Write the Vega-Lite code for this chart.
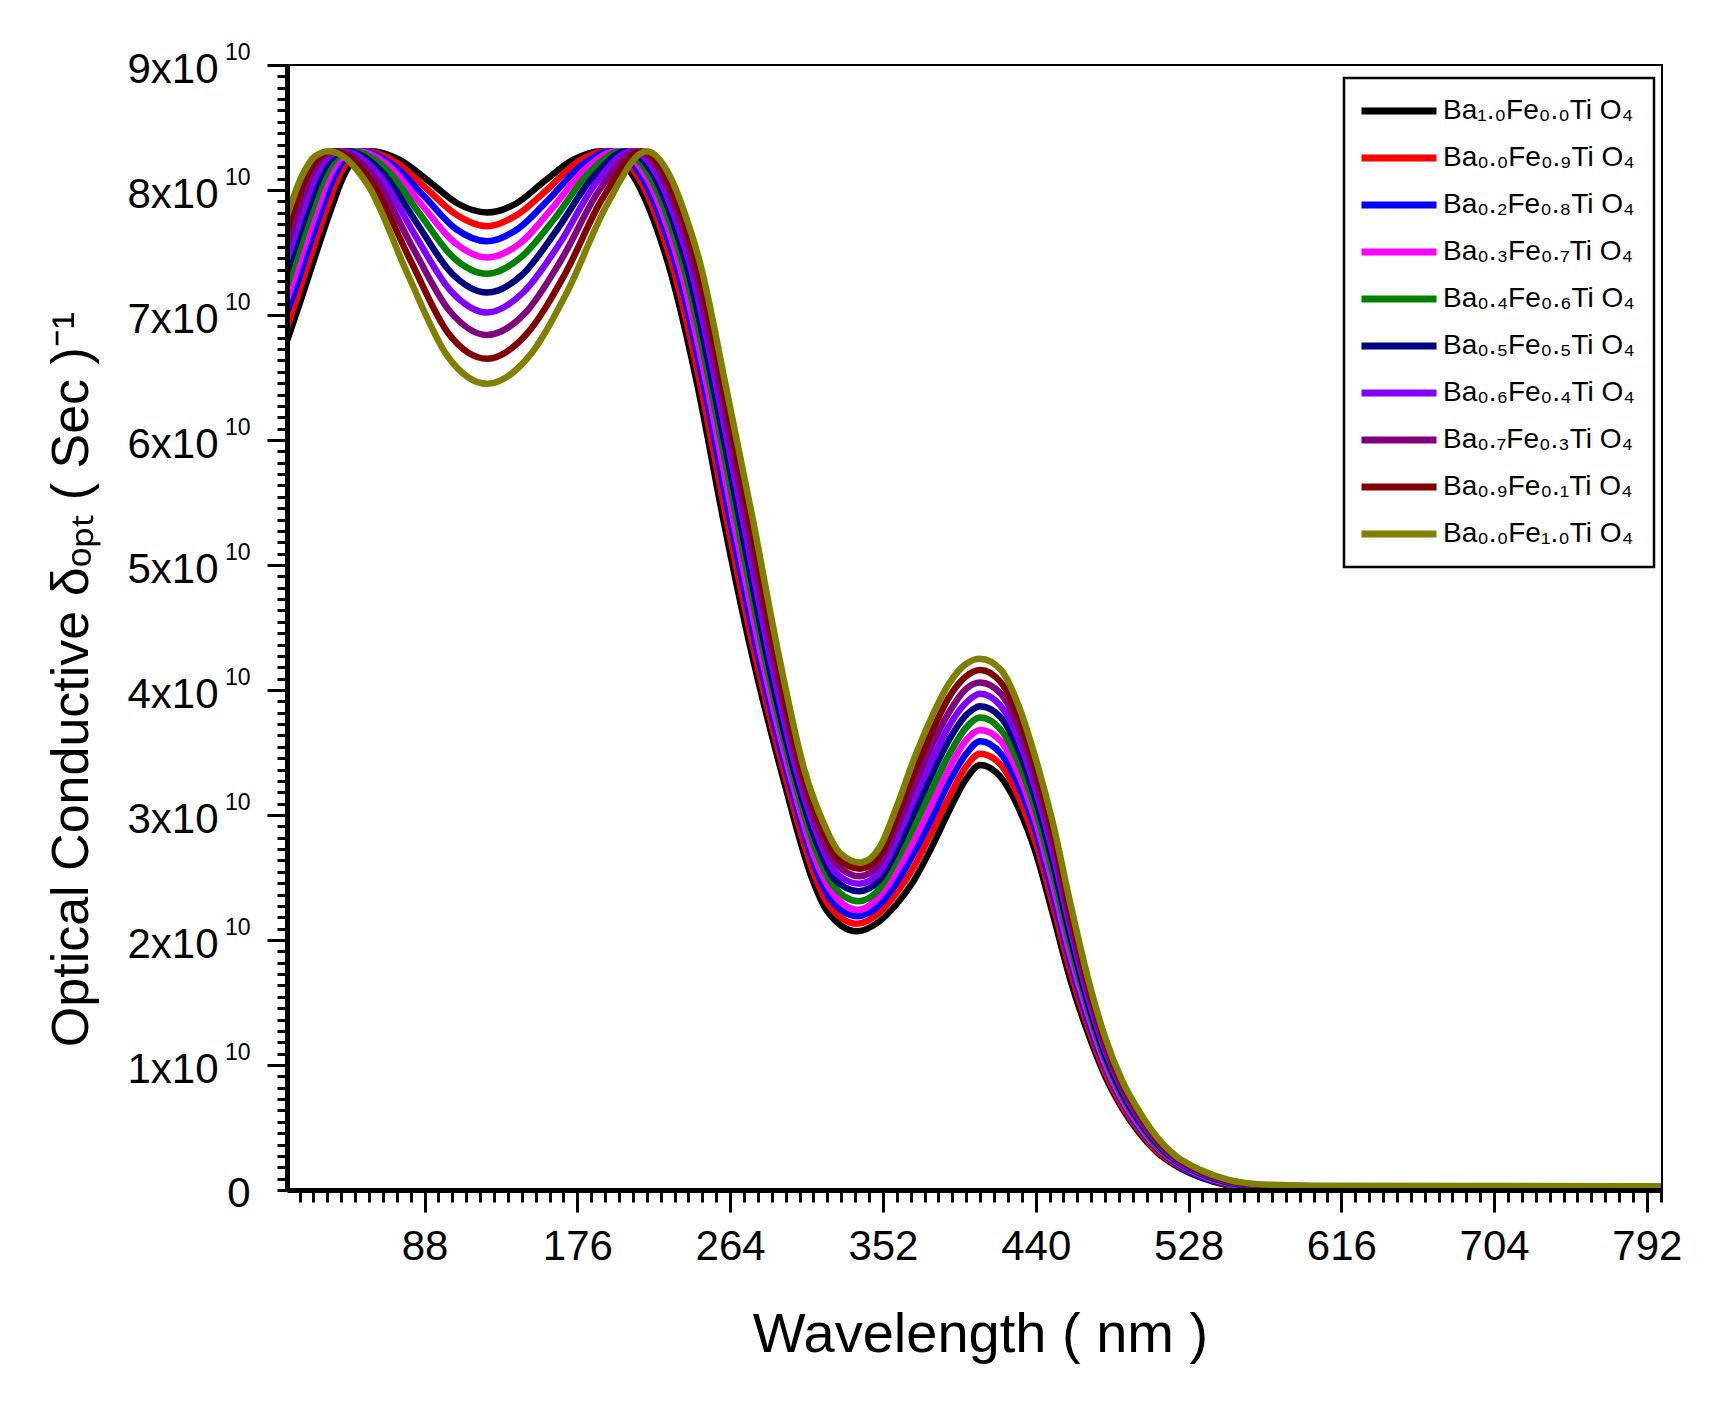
{
  "$schema": "https://vega.github.io/schema/vega-lite/v6.json",
  "autosize": {"type": "none"},
  "padding": {"left": 287, "top": 65, "right": 49, "bottom": 211},
  "width": 1375,
  "height": 1125,
  "background": "white",
  "config": {
    "view": {"stroke": "black", "strokeWidth": 2},
    "legend": {"strokeWidth": 2.5},
    "axis": {"labelFont": "Liberation Sans", "titleFont": "Liberation Sans", "labelColor": "black", "titleColor": "black", "tickColor": "black", "domainColor": "black"}
  },
  "datasets": {
    "names": [
      {"k": 0, "name": "Ba₁.₀Fe₀.₀Ti O₄"},
      {"k": 1, "name": "Ba₀.₀Fe₀.₉Ti O₄"},
      {"k": 2, "name": "Ba₀.₂Fe₀.₈Ti O₄"},
      {"k": 3, "name": "Ba₀.₃Fe₀.₇Ti O₄"},
      {"k": 4, "name": "Ba₀.₄Fe₀.₆Ti O₄"},
      {"k": 5, "name": "Ba₀.₅Fe₀.₅Ti O₄"},
      {"k": 6, "name": "Ba₀.₆Fe₀.₄Ti O₄"},
      {"k": 7, "name": "Ba₀.₇Fe₀.₃Ti O₄"},
      {"k": 8, "name": "Ba₀.₉Fe₀.₁Ti O₄"},
      {"k": 9, "name": "Ba₀.₀Fe₁.₀Ti O₄"}
    ],
    "spectra": [
      {"k":0,"x":9,"y":6.80e10},{"k":0,"x":17,"y":7.13e10},{"k":0,"x":25,"y":7.47e10},{"k":0,"x":33,"y":7.80e10},{"k":0,"x":41,"y":8.10e10},{"k":0,"x":49,"y":8.27e10},{"k":0,"x":57,"y":8.31e10},{"k":0,"x":73.8,"y":8.24e10},{"k":0,"x":90.5,"y":8.07e10},{"k":0,"x":107.3,"y":7.89e10},{"k":0,"x":124,"y":7.82e10},{"k":0,"x":140.5,"y":7.89e10},{"k":0,"x":157,"y":8.07e10},{"k":0,"x":173.5,"y":8.24e10},{"k":0,"x":190,"y":8.31e10},{"k":0,"x":210,"y":8.07e10},{"k":0,"x":220,"y":7.76e10},{"k":0,"x":230,"y":7.33e10},{"k":0,"x":245,"y":6.45e10},{"k":0,"x":260,"y":5.37e10},{"k":0,"x":275,"y":4.38e10},{"k":0,"x":295,"y":3.27e10},{"k":0,"x":311,"y":2.50e10},{"k":0,"x":320,"y":2.23e10},{"k":0,"x":337,"y":2.07e10},{"k":0,"x":350,"y":2.15e10},{"k":0,"x":360,"y":2.29e10},{"k":0,"x":370,"y":2.48e10},{"k":0,"x":380,"y":2.74e10},{"k":0,"x":390,"y":3.03e10},{"k":0,"x":400,"y":3.29e10},{"k":0,"x":408,"y":3.40e10},{"k":0,"x":420,"y":3.30e10},{"k":0,"x":430,"y":3.06e10},{"k":0,"x":440,"y":2.70e10},{"k":0,"x":450,"y":2.20e10},{"k":0,"x":460,"y":1.68e10},{"k":0,"x":470,"y":1.26e10},{"k":0,"x":480,"y":0.91e10},{"k":0,"x":490,"y":0.65e10},{"k":0,"x":500,"y":0.45e10},{"k":0,"x":510,"y":0.30e10},{"k":0,"x":520,"y":0.20e10},{"k":0,"x":535,"y":0.10e10},{"k":0,"x":550,"y":0.04e10},{"k":0,"x":570,"y":0.01e10},{"k":0,"x":600,"y":0},{"k":0,"x":800,"y":0},
      {"k":1,"x":9,"y":6.91e10},{"k":1,"x":14.3,"y":7.13e10},{"k":1,"x":22.3,"y":7.47e10},{"k":1,"x":30.3,"y":7.80e10},{"k":1,"x":38.3,"y":8.10e10},{"k":1,"x":46.3,"y":8.27e10},{"k":1,"x":54.3,"y":8.31e10},{"k":1,"x":71.8,"y":8.22e10},{"k":1,"x":89.2,"y":8.01e10},{"k":1,"x":106.6,"y":7.80e10},{"k":1,"x":124,"y":7.71e10},{"k":1,"x":141.2,"y":7.80e10},{"k":1,"x":158.4,"y":8.00e10},{"k":1,"x":175.7,"y":8.22e10},{"k":1,"x":192.9,"y":8.31e10},{"k":1,"x":212.1,"y":8.08e10},{"k":1,"x":222,"y":7.77e10},{"k":1,"x":231.9,"y":7.34e10},{"k":1,"x":246.9,"y":6.44e10},{"k":1,"x":261.9,"y":5.37e10},{"k":1,"x":276.9,"y":4.37e10},{"k":1,"x":296.3,"y":3.28e10},{"k":1,"x":311.8,"y":2.55e10},{"k":1,"x":320.8,"y":2.28e10},{"k":1,"x":337.2,"y":2.13e10},{"k":1,"x":350,"y":2.22e10},{"k":1,"x":360,"y":2.38e10},{"k":1,"x":370,"y":2.59e10},{"k":1,"x":380,"y":2.86e10},{"k":1,"x":390,"y":3.14e10},{"k":1,"x":400,"y":3.39e10},{"k":1,"x":408,"y":3.49e10},{"k":1,"x":420,"y":3.40e10},{"k":1,"x":430,"y":3.15e10},{"k":1,"x":440,"y":2.78e10},{"k":1,"x":450,"y":2.28e10},{"k":1,"x":460,"y":1.75e10},{"k":1,"x":470,"y":1.31e10},{"k":1,"x":480,"y":0.94e10},{"k":1,"x":490,"y":0.67e10},{"k":1,"x":500,"y":0.47e10},{"k":1,"x":510,"y":0.31e10},{"k":1,"x":520,"y":0.21e10},{"k":1,"x":535,"y":0.11e10},{"k":1,"x":550,"y":0.045e10},{"k":1,"x":570,"y":0.014e10},{"k":1,"x":600,"y":0.004e10},{"k":1,"x":800,"y":0.003e10},
      {"k":2,"x":9,"y":7.03e10},{"k":2,"x":11.7,"y":7.13e10},{"k":2,"x":19.7,"y":7.47e10},{"k":2,"x":27.7,"y":7.80e10},{"k":2,"x":35.7,"y":8.10e10},{"k":2,"x":43.7,"y":8.27e10},{"k":2,"x":51.7,"y":8.31e10},{"k":2,"x":69.8,"y":8.20e10},{"k":2,"x":87.8,"y":7.95e10},{"k":2,"x":105.9,"y":7.69e10},{"k":2,"x":124,"y":7.59e10},{"k":2,"x":141.9,"y":7.69e10},{"k":2,"x":159.9,"y":7.93e10},{"k":2,"x":177.8,"y":8.19e10},{"k":2,"x":195.8,"y":8.31e10},{"k":2,"x":214.2,"y":8.08e10},{"k":2,"x":224,"y":7.77e10},{"k":2,"x":233.8,"y":7.35e10},{"k":2,"x":248.8,"y":6.44e10},{"k":2,"x":263.8,"y":5.37e10},{"k":2,"x":278.8,"y":4.36e10},{"k":2,"x":297.7,"y":3.29e10},{"k":2,"x":312.6,"y":2.60e10},{"k":2,"x":321.6,"y":2.33e10},{"k":2,"x":337.4,"y":2.19e10},{"k":2,"x":350,"y":2.28e10},{"k":2,"x":360,"y":2.46e10},{"k":2,"x":370,"y":2.70e10},{"k":2,"x":380,"y":2.97e10},{"k":2,"x":390,"y":3.26e10},{"k":2,"x":400,"y":3.49e10},{"k":2,"x":408,"y":3.59e10},{"k":2,"x":420,"y":3.49e10},{"k":2,"x":430,"y":3.24e10},{"k":2,"x":440,"y":2.87e10},{"k":2,"x":450,"y":2.36e10},{"k":2,"x":460,"y":1.82e10},{"k":2,"x":470,"y":1.36e10},{"k":2,"x":480,"y":0.98e10},{"k":2,"x":490,"y":0.70e10},{"k":2,"x":500,"y":0.49e10},{"k":2,"x":510,"y":0.33e10},{"k":2,"x":520,"y":0.22e10},{"k":2,"x":535,"y":0.11e10},{"k":2,"x":550,"y":0.05e10},{"k":2,"x":570,"y":0.018e10},{"k":2,"x":600,"y":0.008e10},{"k":2,"x":800,"y":0.007e10},
      {"k":3,"x":9,"y":7.13e10},{"k":3,"x":17,"y":7.47e10},{"k":3,"x":25,"y":7.80e10},{"k":3,"x":33,"y":8.10e10},{"k":3,"x":41,"y":8.27e10},{"k":3,"x":49,"y":8.31e10},{"k":3,"x":67.8,"y":8.19e10},{"k":3,"x":86.5,"y":7.88e10},{"k":3,"x":105.3,"y":7.58e10},{"k":3,"x":124,"y":7.46e10},{"k":3,"x":142.7,"y":7.57e10},{"k":3,"x":161.3,"y":7.85e10},{"k":3,"x":180,"y":8.16e10},{"k":3,"x":198.7,"y":8.31e10},{"k":3,"x":216.3,"y":8.09e10},{"k":3,"x":226,"y":7.78e10},{"k":3,"x":235.7,"y":7.35e10},{"k":3,"x":250.7,"y":6.43e10},{"k":3,"x":265.7,"y":5.37e10},{"k":3,"x":280.7,"y":4.35e10},{"k":3,"x":299,"y":3.30e10},{"k":3,"x":313.3,"y":2.64e10},{"k":3,"x":322.3,"y":2.39e10},{"k":3,"x":337.7,"y":2.24e10},{"k":3,"x":350,"y":2.35e10},{"k":3,"x":360,"y":2.55e10},{"k":3,"x":370,"y":2.80e10},{"k":3,"x":380,"y":3.09e10},{"k":3,"x":390,"y":3.37e10},{"k":3,"x":400,"y":3.60e10},{"k":3,"x":408,"y":3.68e10},{"k":3,"x":420,"y":3.59e10},{"k":3,"x":430,"y":3.33e10},{"k":3,"x":440,"y":2.95e10},{"k":3,"x":450,"y":2.44e10},{"k":3,"x":460,"y":1.88e10},{"k":3,"x":470,"y":1.41e10},{"k":3,"x":480,"y":1.01e10},{"k":3,"x":490,"y":0.72e10},{"k":3,"x":500,"y":0.51e10},{"k":3,"x":510,"y":0.34e10},{"k":3,"x":520,"y":0.23e10},{"k":3,"x":535,"y":0.12e10},{"k":3,"x":550,"y":0.055e10},{"k":3,"x":570,"y":0.022e10},{"k":3,"x":600,"y":0.012e10},{"k":3,"x":800,"y":0.01e10},
      {"k":4,"x":9,"y":7.24e10},{"k":4,"x":14.3,"y":7.47e10},{"k":4,"x":22.3,"y":7.80e10},{"k":4,"x":30.3,"y":8.10e10},{"k":4,"x":38.3,"y":8.27e10},{"k":4,"x":46.3,"y":8.31e10},{"k":4,"x":65.8,"y":8.17e10},{"k":4,"x":85.2,"y":7.81e10},{"k":4,"x":104.6,"y":7.46e10},{"k":4,"x":124,"y":7.33e10},{"k":4,"x":143.4,"y":7.46e10},{"k":4,"x":162.8,"y":7.77e10},{"k":4,"x":182.2,"y":8.13e10},{"k":4,"x":201.6,"y":8.31e10},{"k":4,"x":218.4,"y":8.09e10},{"k":4,"x":228,"y":7.78e10},{"k":4,"x":237.6,"y":7.36e10},{"k":4,"x":252.6,"y":6.43e10},{"k":4,"x":267.6,"y":5.37e10},{"k":4,"x":282.6,"y":4.34e10},{"k":4,"x":300.3,"y":3.31e10},{"k":4,"x":314.1,"y":2.69e10},{"k":4,"x":323.1,"y":2.44e10},{"k":4,"x":337.9,"y":2.31e10},{"k":4,"x":350,"y":2.41e10},{"k":4,"x":360,"y":2.64e10},{"k":4,"x":370,"y":2.91e10},{"k":4,"x":380,"y":3.20e10},{"k":4,"x":390,"y":3.48e10},{"k":4,"x":400,"y":3.70e10},{"k":4,"x":408,"y":3.78e10},{"k":4,"x":420,"y":3.68e10},{"k":4,"x":430,"y":3.42e10},{"k":4,"x":440,"y":3.03e10},{"k":4,"x":450,"y":2.52e10},{"k":4,"x":460,"y":1.95e10},{"k":4,"x":470,"y":1.46e10},{"k":4,"x":480,"y":1.05e10},{"k":4,"x":490,"y":0.75e10},{"k":4,"x":500,"y":0.53e10},{"k":4,"x":510,"y":0.35e10},{"k":4,"x":520,"y":0.24e10},{"k":4,"x":535,"y":0.13e10},{"k":4,"x":550,"y":0.06e10},{"k":4,"x":570,"y":0.026e10},{"k":4,"x":600,"y":0.016e10},{"k":4,"x":800,"y":0.013e10},
      {"k":5,"x":9,"y":7.35e10},{"k":5,"x":11.7,"y":7.47e10},{"k":5,"x":19.7,"y":7.80e10},{"k":5,"x":27.7,"y":8.10e10},{"k":5,"x":35.7,"y":8.27e10},{"k":5,"x":43.7,"y":8.31e10},{"k":5,"x":63.8,"y":8.14e10},{"k":5,"x":83.8,"y":7.73e10},{"k":5,"x":103.9,"y":7.33e10},{"k":5,"x":124,"y":7.18e10},{"k":5,"x":144.1,"y":7.32e10},{"k":5,"x":164.2,"y":7.68e10},{"k":5,"x":184.3,"y":8.09e10},{"k":5,"x":204.4,"y":8.31e10},{"k":5,"x":220.6,"y":8.10e10},{"k":5,"x":230,"y":7.79e10},{"k":5,"x":239.4,"y":7.37e10},{"k":5,"x":254.4,"y":6.42e10},{"k":5,"x":269.4,"y":5.37e10},{"k":5,"x":284.4,"y":4.32e10},{"k":5,"x":301.7,"y":3.31e10},{"k":5,"x":314.9,"y":2.74e10},{"k":5,"x":323.9,"y":2.49e10},{"k":5,"x":338.1,"y":2.39e10},{"k":5,"x":350,"y":2.48e10},{"k":5,"x":360,"y":2.72e10},{"k":5,"x":370,"y":3.02e10},{"k":5,"x":380,"y":3.32e10},{"k":5,"x":390,"y":3.60e10},{"k":5,"x":400,"y":3.80e10},{"k":5,"x":408,"y":3.87e10},{"k":5,"x":420,"y":3.78e10},{"k":5,"x":430,"y":3.52e10},{"k":5,"x":440,"y":3.12e10},{"k":5,"x":450,"y":2.61e10},{"k":5,"x":460,"y":2.02e10},{"k":5,"x":470,"y":1.50e10},{"k":5,"x":480,"y":1.08e10},{"k":5,"x":490,"y":0.77e10},{"k":5,"x":500,"y":0.54e10},{"k":5,"x":510,"y":0.37e10},{"k":5,"x":520,"y":0.24e10},{"k":5,"x":535,"y":0.13e10},{"k":5,"x":550,"y":0.065e10},{"k":5,"x":570,"y":0.029e10},{"k":5,"x":600,"y":0.019e10},{"k":5,"x":800,"y":0.017e10},
      {"k":6,"x":9,"y":7.45e10},{"k":6,"x":17,"y":7.80e10},{"k":6,"x":25,"y":8.10e10},{"k":6,"x":33,"y":8.27e10},{"k":6,"x":41,"y":8.31e10},{"k":6,"x":61.8,"y":8.12e10},{"k":6,"x":82.5,"y":7.64e10},{"k":6,"x":103.3,"y":7.19e10},{"k":6,"x":124,"y":7.02e10},{"k":6,"x":144.8,"y":7.18e10},{"k":6,"x":165.7,"y":7.57e10},{"k":6,"x":186.5,"y":8.05e10},{"k":6,"x":207.3,"y":8.31e10},{"k":6,"x":222.7,"y":8.10e10},{"k":6,"x":232,"y":7.79e10},{"k":6,"x":241.3,"y":7.38e10},{"k":6,"x":256.3,"y":6.42e10},{"k":6,"x":271.3,"y":5.37e10},{"k":6,"x":286.3,"y":4.31e10},{"k":6,"x":303,"y":3.32e10},{"k":6,"x":315.7,"y":2.79e10},{"k":6,"x":324.7,"y":2.54e10},{"k":6,"x":338.3,"y":2.45e10},{"k":6,"x":350,"y":2.54e10},{"k":6,"x":360,"y":2.81e10},{"k":6,"x":370,"y":3.13e10},{"k":6,"x":380,"y":3.43e10},{"k":6,"x":390,"y":3.71e10},{"k":6,"x":400,"y":3.90e10},{"k":6,"x":408,"y":3.97e10},{"k":6,"x":420,"y":3.87e10},{"k":6,"x":430,"y":3.61e10},{"k":6,"x":440,"y":3.20e10},{"k":6,"x":450,"y":2.69e10},{"k":6,"x":460,"y":2.09e10},{"k":6,"x":470,"y":1.55e10},{"k":6,"x":480,"y":1.12e10},{"k":6,"x":490,"y":0.80e10},{"k":6,"x":500,"y":0.56e10},{"k":6,"x":510,"y":0.38e10},{"k":6,"x":520,"y":0.25e10},{"k":6,"x":535,"y":0.14e10},{"k":6,"x":550,"y":0.07e10},{"k":6,"x":570,"y":0.033e10},{"k":6,"x":600,"y":0.023e10},{"k":6,"x":800,"y":0.02e10},
      {"k":7,"x":9,"y":7.56e10},{"k":7,"x":14.3,"y":7.80e10},{"k":7,"x":22.3,"y":8.10e10},{"k":7,"x":30.3,"y":8.27e10},{"k":7,"x":38.3,"y":8.31e10},{"k":7,"x":59.8,"y":8.09e10},{"k":7,"x":81.2,"y":7.54e10},{"k":7,"x":102.6,"y":7.03e10},{"k":7,"x":124,"y":6.84e10},{"k":7,"x":145.6,"y":7.01e10},{"k":7,"x":167.1,"y":7.45e10},{"k":7,"x":188.7,"y":8.00e10},{"k":7,"x":210.2,"y":8.31e10},{"k":7,"x":224.8,"y":8.11e10},{"k":7,"x":234,"y":7.80e10},{"k":7,"x":243.2,"y":7.38e10},{"k":7,"x":258.2,"y":6.41e10},{"k":7,"x":273.2,"y":5.37e10},{"k":7,"x":288.2,"y":4.30e10},{"k":7,"x":304.3,"y":3.33e10},{"k":7,"x":316.4,"y":2.83e10},{"k":7,"x":325.4,"y":2.60e10},{"k":7,"x":338.6,"y":2.51e10},{"k":7,"x":350,"y":2.61e10},{"k":7,"x":360,"y":2.90e10},{"k":7,"x":370,"y":3.23e10},{"k":7,"x":380,"y":3.55e10},{"k":7,"x":390,"y":3.82e10},{"k":7,"x":400,"y":4.01e10},{"k":7,"x":408,"y":4.06e10},{"k":7,"x":420,"y":3.97e10},{"k":7,"x":430,"y":3.70e10},{"k":7,"x":440,"y":3.28e10},{"k":7,"x":450,"y":2.77e10},{"k":7,"x":460,"y":2.15e10},{"k":7,"x":470,"y":1.60e10},{"k":7,"x":480,"y":1.15e10},{"k":7,"x":490,"y":0.82e10},{"k":7,"x":500,"y":0.58e10},{"k":7,"x":510,"y":0.39e10},{"k":7,"x":520,"y":0.26e10},{"k":7,"x":535,"y":0.15e10},{"k":7,"x":550,"y":0.075e10},{"k":7,"x":570,"y":0.037e10},{"k":7,"x":600,"y":0.027e10},{"k":7,"x":800,"y":0.023e10},
      {"k":8,"x":9,"y":7.67e10},{"k":8,"x":11.7,"y":7.80e10},{"k":8,"x":19.7,"y":8.10e10},{"k":8,"x":27.7,"y":8.27e10},{"k":8,"x":35.7,"y":8.31e10},{"k":8,"x":57.8,"y":8.06e10},{"k":8,"x":79.8,"y":7.44e10},{"k":8,"x":101.9,"y":6.85e10},{"k":8,"x":124,"y":6.65e10},{"k":8,"x":146.3,"y":6.84e10},{"k":8,"x":168.6,"y":7.32e10},{"k":8,"x":190.8,"y":7.94e10},{"k":8,"x":213.1,"y":8.31e10},{"k":8,"x":226.9,"y":8.11e10},{"k":8,"x":236,"y":7.80e10},{"k":8,"x":245.1,"y":7.39e10},{"k":8,"x":260.1,"y":6.41e10},{"k":8,"x":275.1,"y":5.37e10},{"k":8,"x":290.1,"y":4.29e10},{"k":8,"x":305.7,"y":3.34e10},{"k":8,"x":317.2,"y":2.88e10},{"k":8,"x":326.2,"y":2.65e10},{"k":8,"x":338.8,"y":2.57e10},{"k":8,"x":350,"y":2.67e10},{"k":8,"x":360,"y":2.98e10},{"k":8,"x":370,"y":3.34e10},{"k":8,"x":380,"y":3.66e10},{"k":8,"x":390,"y":3.94e10},{"k":8,"x":400,"y":4.11e10},{"k":8,"x":408,"y":4.16e10},{"k":8,"x":420,"y":4.06e10},{"k":8,"x":430,"y":3.79e10},{"k":8,"x":440,"y":3.37e10},{"k":8,"x":450,"y":2.85e10},{"k":8,"x":460,"y":2.22e10},{"k":8,"x":470,"y":1.65e10},{"k":8,"x":480,"y":1.19e10},{"k":8,"x":490,"y":0.85e10},{"k":8,"x":500,"y":0.60e10},{"k":8,"x":510,"y":0.41e10},{"k":8,"x":520,"y":0.27e10},{"k":8,"x":535,"y":0.15e10},{"k":8,"x":550,"y":0.08e10},{"k":8,"x":570,"y":0.041e10},{"k":8,"x":600,"y":0.031e10},{"k":8,"x":800,"y":0.027e10},
      {"k":9,"x":9,"y":7.80e10},{"k":9,"x":17,"y":8.10e10},{"k":9,"x":25,"y":8.27e10},{"k":9,"x":33,"y":8.31e10},{"k":9,"x":55.8,"y":8.03e10},{"k":9,"x":78.5,"y":7.32e10},{"k":9,"x":101.3,"y":6.67e10},{"k":9,"x":124,"y":6.45e10},{"k":9,"x":147,"y":6.65e10},{"k":9,"x":170,"y":7.18e10},{"k":9,"x":193,"y":7.88e10},{"k":9,"x":216,"y":8.31e10},{"k":9,"x":229,"y":8.12e10},{"k":9,"x":238,"y":7.81e10},{"k":9,"x":247,"y":7.40e10},{"k":9,"x":262,"y":6.40e10},{"k":9,"x":277,"y":5.37e10},{"k":9,"x":292,"y":4.28e10},{"k":9,"x":307,"y":3.35e10},{"k":9,"x":318,"y":2.93e10},{"k":9,"x":327,"y":2.70e10},{"k":9,"x":339,"y":2.62e10},{"k":9,"x":350,"y":2.74e10},{"k":9,"x":360,"y":3.07e10},{"k":9,"x":370,"y":3.45e10},{"k":9,"x":380,"y":3.78e10},{"k":9,"x":390,"y":4.05e10},{"k":9,"x":400,"y":4.21e10},{"k":9,"x":408,"y":4.25e10},{"k":9,"x":420,"y":4.16e10},{"k":9,"x":430,"y":3.88e10},{"k":9,"x":440,"y":3.45e10},{"k":9,"x":450,"y":2.93e10},{"k":9,"x":460,"y":2.29e10},{"k":9,"x":470,"y":1.70e10},{"k":9,"x":480,"y":1.22e10},{"k":9,"x":490,"y":0.87e10},{"k":9,"x":500,"y":0.62e10},{"k":9,"x":510,"y":0.42e10},{"k":9,"x":520,"y":0.28e10},{"k":9,"x":535,"y":0.16e10},{"k":9,"x":550,"y":0.085e10},{"k":9,"x":570,"y":0.045e10},{"k":9,"x":600,"y":0.035e10},{"k":9,"x":800,"y":0.03e10}
    ]
  },
  "data": {"name": "spectra"},
  "transform": [
    {"lookup": "k", "from": {"data": {"name": "names"}, "key": "k", "fields": ["name"]}}
  ],
  "layer": [
    {
      "mark": {"type": "line", "strokeWidth": 6.5, "interpolate": "monotone", "clip": true},
      "encoding": {
        "x": {
          "field": "x",
          "type": "quantitative",
          "scale": {"domain": [8.8, 800.7], "nice": false, "zero": false},
          "axis": {
            "orient": "bottom",
            "values": [88, 176, 264, 352, 440, 528, 616, 704, 792],
            "title": "Wavelength ( nm )",
            "titleFontSize": 56,
            "titleFontWeight": "normal",
            "titleX": 693,
            "titleY": 161,
            "titleAlign": "center",
            "titleBaseline": "alphabetic",
            "labelFontSize": 42,
            "labelPadding": 14,
            "labelFlush": false,
            "labelOverlap": false,
            "tickSize": 22,
            "tickWidth": 3,
            "domainWidth": 5,
            "grid": false,
            "zindex": 1
          }
        },
        "y": {
          "field": "y",
          "type": "quantitative",
          "scale": {"domain": [0, 9e10], "nice": false, "zero": true},
          "axis": {
            "orient": "left",
            "values": [1e10, 2e10, 3e10, 4e10, 5e10, 6e10, 7e10, 8e10, 9e10],
            "labelExpr": "format(round(datum.value / 1e10), 'd') + 'x10'",
            "title": "Optical Conductive δₒₚₜ ( Sec )⁻¹",
            "titleFontSize": 52,
            "titleFontWeight": "normal",
            "titleAngle": 270,
            "titleX": -200,
            "titleY": 614,
            "titleAlign": "center",
            "titleBaseline": "alphabetic",
            "labelFontSize": 42,
            "labelPadding": 49,
            "labelOffset": 4,
            "labelFlush": false,
            "labelOverlap": false,
            "tickSize": 20,
            "tickWidth": 3,
            "domainWidth": 5,
            "grid": false,
            "zindex": 1
          }
        },
        "color": {
          "field": "name",
          "type": "nominal",
          "scale": {
            "domain": ["Ba₁.₀Fe₀.₀Ti O₄", "Ba₀.₀Fe₀.₉Ti O₄", "Ba₀.₂Fe₀.₈Ti O₄", "Ba₀.₃Fe₀.₇Ti O₄", "Ba₀.₄Fe₀.₆Ti O₄", "Ba₀.₅Fe₀.₅Ti O₄", "Ba₀.₆Fe₀.₄Ti O₄", "Ba₀.₇Fe₀.₃Ti O₄", "Ba₀.₉Fe₀.₁Ti O₄", "Ba₀.₀Fe₁.₀Ti O₄"],
            "range": ["#000000", "#FF0000", "#0000FF", "#FF00FF", "#008000", "#000080", "#8000FF", "#800080", "#800000", "#808000"]
          },
          "legend": {
            "orient": "none",
            "legendX": 1057,
            "legendY": 13,
            "title": null,
            "symbolType": "M-5,0H5",
            "symbolSize": 225,
            "symbolStrokeWidth": 7,
            "symbolOffset": 22,
            "labelOffset": 30,
            "labelFont": "Liberation Sans",
            "labelFontSize": 28,
            "labelColor": "black",
            "labelLimit": 0,
            "padding": 19,
            "rowPadding": 19,
            "strokeColor": "black",
            "fillColor": "white"
          }
        }
      }
    },
    {
      "mark": {"type": "point", "opacity": 0},
      "encoding": {
        "x": {
          "field": "x",
          "type": "quantitative",
          "scale": {"domain": [8.8, 800.7], "nice": false, "zero": false},
          "axis": {
            "orient": "bottom",
            "values": [16,24,32,40,48,56,64,72,80,96,104,112,120,128,136,144,152,160,168,184,192,200,208,216,224,232,240,248,256,272,280,288,296,304,312,320,328,336,344,360,368,376,384,392,400,408,416,424,432,448,456,464,472,480,488,496,504,512,520,536,544,552,560,568,576,584,592,600,608,624,632,640,648,656,664,672,680,688,696,712,720,728,736,744,752,760,768,776,784,800],
            "labels": false,
            "domain": false,
            "grid": false,
            "title": null,
            "tickSize": 12,
            "tickWidth": 3,
            "zindex": 1
          }
        },
        "y": {
          "field": "y",
          "type": "quantitative",
          "scale": {"domain": [0, 9e10], "nice": false, "zero": true},
          "axis": {
            "orient": "left",
            "values": [0,0.0909e10,0.1818e10,0.2727e10,0.3636e10,0.4545e10,0.5455e10,0.6364e10,0.7273e10,0.8182e10,0.9091e10,1.0909e10,1.1818e10,1.2727e10,1.3636e10,1.4545e10,1.5455e10,1.6364e10,1.7273e10,1.8182e10,1.9091e10,2.0909e10,2.1818e10,2.2727e10,2.3636e10,2.4545e10,2.5455e10,2.6364e10,2.7273e10,2.8182e10,2.9091e10,3.0909e10,3.1818e10,3.2727e10,3.3636e10,3.4545e10,3.5455e10,3.6364e10,3.7273e10,3.8182e10,3.9091e10,4.0909e10,4.1818e10,4.2727e10,4.3636e10,4.4545e10,4.5455e10,4.6364e10,4.7273e10,4.8182e10,4.9091e10,5.0909e10,5.1818e10,5.2727e10,5.3636e10,5.4545e10,5.5455e10,5.6364e10,5.7273e10,5.8182e10,5.9091e10,6.0909e10,6.1818e10,6.2727e10,6.3636e10,6.4545e10,6.5455e10,6.6364e10,6.7273e10,6.8182e10,6.9091e10,7.0909e10,7.1818e10,7.2727e10,7.3636e10,7.4545e10,7.5455e10,7.6364e10,7.7273e10,7.8182e10,7.9091e10,8.0909e10,8.1818e10,8.2727e10,8.3636e10,8.4545e10,8.5455e10,8.6364e10,8.7273e10,8.8182e10,8.9091e10],
            "labelExpr": "datum.value == 0 ? '0' : ''",
            "labelFont": "Liberation Sans",
            "labelFontSize": 42,
            "labelPadding": 27,
            "labelOffset": 3,
            "labelFlush": false,
            "labelOverlap": false,
            "domain": false,
            "grid": false,
            "title": null,
            "tickSize": 10,
            "tickWidth": 3,
            "zindex": 1
          }
        }
      }
    },
    {
      "mark": {"type": "point", "opacity": 0},
      "encoding": {
        "x": {
          "field": "x",
          "type": "quantitative",
          "scale": {"domain": [8.8, 800.7], "nice": false, "zero": false},
          "axis": null
        },
        "y": {
          "field": "y",
          "type": "quantitative",
          "scale": {"domain": [0, 9e10], "nice": false, "zero": true},
          "axis": {
            "orient": "left",
            "values": [1e10, 2e10, 3e10, 4e10, 5e10, 6e10, 7e10, 8e10, 9e10],
            "labelExpr": "'10'",
            "labelFont": "Liberation Sans",
            "labelFontSize": 23,
            "labelPadding": 37,
            "labelOffset": -13,
            "labelFlush": false,
            "labelOverlap": false,
            "ticks": true,
            "tickSize": 0,
            "tickWidth": 0,
            "tickOpacity": 0,
            "domain": false,
            "grid": false,
            "title": null,
            "zindex": 1
          }
        }
      }
    }
  ],
  "resolve": {"axis": {"x": "independent", "y": "independent"}}
}
